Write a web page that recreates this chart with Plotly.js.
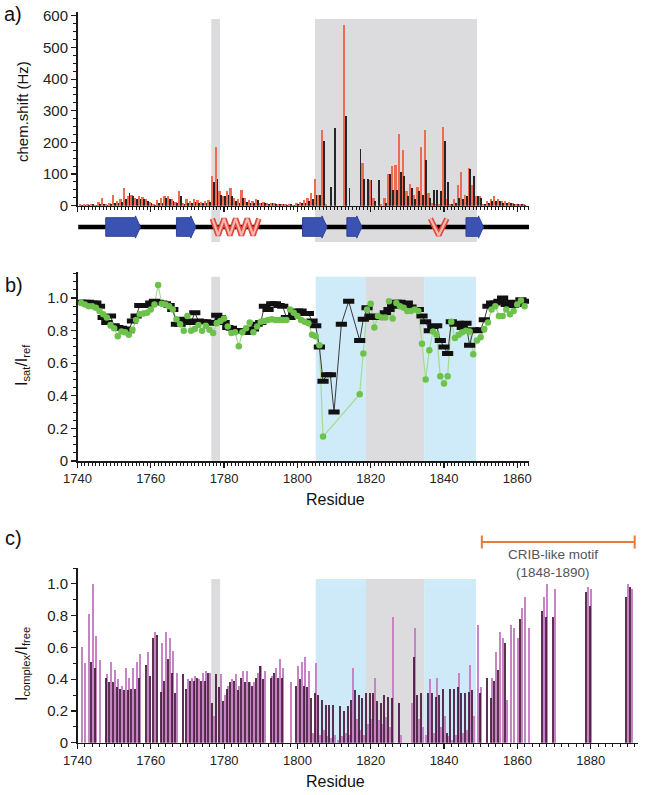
<!DOCTYPE html>
<html>
<head>
<meta charset="utf-8">
<script src="https://cdn.plot.ly/plotly-3.0.1.min.js"></script>
<style>html,body{margin:0;padding:0;background:#fff;}#chart{width:649px;height:795px;}</style>
</head>
<body>
<div id="chart"></div>
<script>
// ---------------- DATA ----------------
// Panel a: chemical shift perturbation (Hz)
const resA = [1741,1742,1743,1744,1745,1746,1747,1748,1749,1750,1751,1752,1753,1754,1755,1756,1757,1758,1759,1760,1761,1762,1763,1764,1765,1766,1767,1768,1769,1770,1771,1772,1773,1774,1775,1776,1777,1778,1779,1780,1781,1782,1783,1784,1785,1786,1787,1788,1789,1790,1791,1792,1793,1794,1795,1796,1797,1798,1799,1800,1801,1802,1803,1804,1805,1806,1807,1808,1809,1810,1811,1812,1813,1814,1815,1816,1817,1818,1819,1820,1821,1822,1823,1824,1825,1826,1827,1828,1829,1830,1831,1832,1833,1834,1835,1836,1837,1838,1839,1840,1841,1842,1843,1844,1845,1846,1847,1848,1849,1850,1851,1852,1853,1854,1855,1856,1857,1858,1859,1860,1861,1862];
const shiftRed = [4,5,4,6,3,12,25,5,8,35,15,20,55,30,35,25,30,28,20,12,5,18,25,30,30,20,12,45,8,22,15,20,18,12,15,18,95,185,45,30,45,55,25,20,50,25,18,15,22,10,12,8,10,8,5,6,5,6,3,8,12,18,25,40,85,35,240,5,0,0,0,0,570,0,0,0,0,135,0,80,25,0,5,25,100,125,130,225,175,45,70,35,60,185,240,40,10,5,5,250,20,5,20,65,105,35,120,65,30,30,5,15,20,30,20,15,15,12,8,5,6,5];
const shiftBlack = [3,3,3,4,2,5,5,3,4,10,10,12,20,40,30,20,20,22,15,8,3,8,10,25,20,15,10,30,5,8,10,12,10,8,10,12,75,85,35,30,35,30,15,10,25,12,10,10,18,8,8,5,8,6,4,4,3,4,2,5,8,10,15,20,35,35,205,0,60,245,0,0,285,55,0,0,180,85,85,80,15,80,0,10,100,50,50,105,95,30,55,20,45,35,145,25,50,50,45,205,75,5,10,25,20,30,115,95,30,25,5,10,15,15,15,10,10,8,6,4,4,3];

// Secondary structure (residue ranges)
const backbone = [1740.2, 1863.2];
const strandStart = [1747.7, 1767.0, 1801.4, 1813.5, 1846.0];
const strandEnd   = [1757.2, 1772.3, 1808.1, 1817.6, 1850.8];
const helixStart  = [1776.8, 1836.3];
const helixEnd    = [1789.5, 1840.8];
const helixTurns  = [4, 1];

// Panel b: saturation transfer Isat/Iref
const resB = resA;
const isatBlack = [0.975,0.975,0.975,0.97,0.97,0.95,0.88,0.85,0.89,0.83,0.82,0.815,0.81,0.80,0.86,0.89,0.955,0.955,0.955,0.97,0.98,0.975,0.97,0.965,0.955,0.93,0.84,0.84,0.87,0.86,0.85,0.91,0.86,0.855,0.855,0.85,0.845,0.895,0.88,0.85,0.82,0.815,0.80,0.80,0.80,0.79,0.79,0.81,0.84,0.85,0.95,0.93,0.965,0.965,0.955,0.95,0.88,0.88,0.91,0.92,0.92,0.905,0.905,0.86,0.83,0.70,0.49,0.53,0.53,0.30,null,0.84,null,0.98,null,null,0.74,0.87,0.94,0.89,0.88,0.88,0.88,0.91,0.93,0.95,0.975,0.975,0.96,0.97,0.945,0.93,0.93,0.89,0.855,0.80,0.825,0.83,0.74,0.70,0.66,0.855,0.84,0.845,0.82,0.845,0.71,0.805,0.80,0.805,0.867,0.95,0.97,0.97,0.98,1.0,0.96,0.975,0.955,0.96,0.99,0.98];
const isatGreen = [0.97,0.96,0.95,0.95,0.94,0.92,0.90,0.88,0.835,0.815,0.765,0.795,0.79,0.775,0.805,0.865,0.90,0.905,0.91,0.93,0.96,1.08,0.965,0.96,0.95,0.93,0.87,0.84,0.80,0.89,0.80,0.81,0.835,0.80,0.83,0.805,0.785,0.845,0.86,0.875,0.825,0.785,0.79,0.705,0.79,0.815,0.85,0.79,0.825,0.855,0.86,0.866,0.87,0.866,0.866,0.866,0.866,0.93,0.91,0.89,0.866,0.855,0.845,0.775,0.765,0.71,0.15,null,null,null,null,null,null,null,null,null,0.41,0.66,0.93,0.965,0.82,0.89,0.88,0.88,0.98,0.875,0.97,0.95,0.94,0.92,0.92,0.93,0.92,0.72,0.50,0.68,0.795,0.775,0.52,0.475,0.52,0.855,0.755,0.775,0.79,0.80,0.795,0.655,0.74,0.76,0.81,0.85,0.93,0.95,0.89,0.89,0.93,0.90,0.92,0.96,0.985,0.95];

// Panel c: Icomplex/Ifree
const resC = [1741,1742,1743,1744,1745,1746,1748,1749,1750,1751,1752,1753,1754,1755,1756,1757,1759,1760,1761,1762,1763,1764,1765,1766,1767,1769,1770,1771,1772,1773,1774,1775,1776,1777,1778,1779,1780,1781,1782,1783,1784,1785,1786,1787,1788,1789,1790,1791,1793,1794,1795,1796,1798,1800,1801,1802,1803,1804,1805,1806,1807,1808,1809,1810,1811,1812,1813,1814,1815,1816,1817,1818,1819,1820,1821,1822,1823,1824,1825,1826,1828,1831,1832,1833,1834,1835,1836,1837,1838,1839,1840,1841,1842,1843,1844,1845,1846,1847,1848,1849,1850,1852,1853,1854,1855,1856,1857,1858,1859,1860,1861,1862,1863,1867,1868,1870,1879,1880,1890,1891];
const ratioLight = [0.60,0.50,0.81,1.00,0.67,0.52,0.43,0.51,0.46,0.40,0.36,0.47,0.41,0.47,0.51,0.56,0.57,0,0.70,0,0.63,0.70,0.66,0.58,0.44,0,0.40,0.41,0.42,0.40,0.44,0.45,0.44,0.17,0,0.43,0.30,0.36,0.40,0.43,0.36,0.45,0.45,0.38,0.38,0.44,0.48,0.45,0.42,0.47,0.53,0.47,0.38,0.48,0.51,0.54,0.45,0.06,0.50,0.05,0.08,0.04,0.03,0.05,0.02,0.04,0.06,0.05,0.47,0.15,0.08,0.05,0.12,0.15,0.41,0.14,0.12,0.16,0.10,0.79,0.05,0.25,0.72,0.15,0.10,0.05,0.40,0.06,0.41,0.10,0.17,0.04,0.02,0.05,0.44,0.06,0.08,0.49,0.17,0.74,0.35,0,0.41,0.57,0.70,0.66,0.27,0.74,0.72,0.66,0.85,0.92,0.72,0.92,1.00,0.97,0.98,0.97,1.00,0.97];
const ratioDark  = [0,0,0,0.51,0.47,0,0.41,0.38,0.38,0.35,0.34,0.33,0.33,0.34,0.34,0.41,0.49,0.42,0.66,0.68,0.32,0.39,0.53,0.44,0.31,0.43,0.34,0.39,0.39,0.41,0.39,0.39,0.44,0.25,0.43,0.35,0.26,0.34,0.38,0.39,0.33,0.41,0.38,0.38,0.36,0.41,0.48,0.40,0.41,0.44,0.41,0.41,0,0.36,0.40,0.36,0.35,0.28,0.31,0.30,0.27,0.24,0.24,0.24,0,0.23,0.20,0.23,0.27,0.33,0.30,0.28,0.31,0.31,0.31,0.26,0.25,0.30,0.29,0.28,0.25,0,0.54,0.30,0.31,0,0.31,0.31,0.29,0.30,0.34,0.06,0.34,0.34,0.35,0.31,0.31,0.32,0.33,0,0.31,0.41,0.28,0.39,0.46,0,0.63,0,0,0,0.78,0,0,0.83,0.79,0.79,0.95,0.86,0.92,0.98];

// Highlighted regions
const greyBandA   = [[1776.5, 1778.9], [1804.8, 1849.0]];
const blueBands   = [[1805.0, 1818.7], [1834.6, 1848.7]];
const greyBandsBC = [[1776.5, 1778.9], [1818.7, 1834.6]];
const cribRange   = [1850.3, 1892.0];
const cribLabel   = ["CRIB-like motif", "(1848-1890)"];

const tickValsY  = [0, 0.2, 0.4, 0.6, 0.8, 1.0];
const tickTextY  = ["0", "0.2", "0.4", "0.6", "0.8", "1.0"];
const tickValsA  = [0, 100, 200, 300, 400, 500, 600];

// ---------------- LAYOUT HELPERS ----------------
const W = 649, H = 795;
const fx = p => p / W;
const fy = p => 1 - p / H;
const FONT = "Liberation Sans, Arial, Helvetica, sans-serif";
const INK = "#1a1a1a";

function xAxisBase(range, dom, anchor, labels, minorDt) {
  return {
    domain: dom, range: range, anchor: anchor,
    showline: true, linecolor: INK, linewidth: 1.5,
    ticks: "outside", ticklen: 5, tickwidth: 1.2, tickcolor: INK,
    tick0: 1740, dtick: 20, showticklabels: labels,
    tickfont: {family: FONT, size: 13, color: "#222"},
    minor: {ticks: "outside", dtick: minorDt, ticklen: 3, tickwidth: 1, tickcolor: INK},
    showgrid: false, zeroline: false, fixedrange: true
  };
}
function yAxisBase(range, dom, anchor, vals, texts, minorDt) {
  return {
    domain: dom, range: range, anchor: anchor,
    showline: true, linecolor: INK, linewidth: 1.5,
    ticks: "outside", ticklen: 5, tickwidth: 1.2, tickcolor: INK,
    tickmode: "array", tickvals: vals, ticktext: texts,
    tickfont: {family: FONT, size: 15, color: "#222"},
    minor: {ticks: "outside", dtick: minorDt, ticklen: 3, tickwidth: 1, tickcolor: INK},
    showgrid: false, zeroline: false, fixedrange: true
  };
}

const domAB = [fx(77.5), fx(529)];
const domC  = [fx(77.5), fx(638)];

// ---------------- TRACES ----------------
const traces = [];
// Panel a bars
traces.push({type: "bar", x: resA, y: shiftRed, xaxis: "x", yaxis: "y",
  marker: {color: "#ef6b52"}, width: 0.6, offset: -0.55, hoverinfo: "skip"});
traces.push({type: "bar", x: resA, y: shiftBlack, xaxis: "x", yaxis: "y",
  marker: {color: "#262626"}, width: 0.5, offset: -0.05, hoverinfo: "skip"});

// Secondary structure strip (x / y4)
traces.push({type: "scatter", mode: "lines", x: backbone, y: [0.5, 0.5], xaxis: "x", yaxis: "y4",
  line: {color: "#000", width: 4.5}, hoverinfo: "skip"});
for (let i = 0; i < strandStart.length; i++) {
  const s = strandStart[i], e = strandEnd[i], hl = 1.4, hb = 0.31, hh = 0.37;
  traces.push({type: "scatter", mode: "lines", fill: "toself", xaxis: "x", yaxis: "y4",
    x: [s, e - hl, e - hl, e, e - hl, e - hl, s, s],
    y: [0.5 - hb, 0.5 - hb, 0.5 - hh, 0.5, 0.5 + hh, 0.5 + hb, 0.5 + hb, 0.5 - hb],
    fillcolor: "#3a52b2", line: {color: "#2e4398", width: 1}, hoverinfo: "skip"});
}
for (let i = 0; i < helixStart.length; i++) {
  const s = helixStart[i], e = helixEnd[i], n = helixTurns[i];
  const xs = [], ys = [];
  for (let k = 0; k <= 2 * n; k++) { xs.push(s + (e - s) * k / (2 * n)); ys.push(k % 2 === 0 ? 0.78 : 0.22); }
  traces.push({type: "scatter", mode: "lines", x: xs, y: ys, xaxis: "x", yaxis: "y4",
    line: {color: "#e2463c", width: 5.5}, hoverinfo: "skip"});
  traces.push({type: "scatter", mode: "lines", x: xs, y: ys, xaxis: "x", yaxis: "y4",
    line: {color: "#f6b8ae", width: 2.2}, hoverinfo: "skip"});
}

// Panel b
traces.push({type: "scatter", mode: "lines", x: resB, y: isatGreen, xaxis: "x2", yaxis: "y2",
  connectgaps: true, line: {color: "#a6da92", width: 1.2}, hoverinfo: "skip"});
traces.push({type: "scatter", mode: "lines+markers", x: resB, y: isatBlack, xaxis: "x2", yaxis: "y2",
  connectgaps: true, line: {color: "#3a3a3a", width: 1},
  marker: {symbol: "line-ew", size: 8, color: "#111", line: {color: "#111", width: 5}}, hoverinfo: "skip"});
traces.push({type: "scatter", mode: "markers", x: resB, y: isatGreen, xaxis: "x2", yaxis: "y2",
  marker: {symbol: "circle", size: 6.5, color: "#6cc24a"}, hoverinfo: "skip"});

// Panel c
traces.push({type: "bar", x: resC, y: ratioLight, xaxis: "x3", yaxis: "y3",
  marker: {color: "#c684c4"}, width: 0.55, offset: -0.12, hoverinfo: "skip"});
traces.push({type: "bar", x: resC, y: ratioDark, xaxis: "x3", yaxis: "y3",
  marker: {color: "#45163a"}, opacity: 0.88, width: 0.55, offset: -0.55, hoverinfo: "skip"});

// ---------------- SHAPES ----------------
const shapes = [];
greyBandA.forEach(b => shapes.push({type: "rect", layer: "below", xref: "x", yref: "paper",
  x0: b[0], x1: b[1], y0: fy(242), y1: fy(19), fillcolor: "#dcdcde", line: {width: 0}}));
[["x2", fy(461), fy(276.7)], ["x3", fy(742.7), fy(579)]].forEach(p => {
  blueBands.forEach(b => shapes.push({type: "rect", layer: "below", xref: p[0], yref: "paper",
    x0: b[0], x1: b[1], y0: p[1], y1: p[2], fillcolor: "#cfeaf8", line: {width: 0}}));
  greyBandsBC.forEach(b => shapes.push({type: "rect", layer: "below", xref: p[0], yref: "paper",
    x0: b[0], x1: b[1], y0: p[1], y1: p[2], fillcolor: "#dcdcde", line: {width: 0}}));
});
// CRIB bracket
const crc = "#ea7a3c";
shapes.push({type: "line", xref: "x3", yref: "paper", x0: cribRange[0], x1: cribRange[1],
  y0: fy(542), y1: fy(542), line: {color: crc, width: 2}});
cribRange.forEach(v => shapes.push({type: "line", xref: "x3", yref: "paper", x0: v, x1: v,
  y0: fy(535.5), y1: fy(548.5), line: {color: crc, width: 2}}));

// ---------------- ANNOTATIONS ----------------
const ann = (text, x, y, opts) => Object.assign({text: text, xref: "paper", yref: "paper",
  x: fx(x), y: fy(y), showarrow: false, xanchor: "center", yanchor: "middle",
  font: {family: FONT, size: 15, color: "#111"}}, opts || {});
const annotations = [
  ann("a)", 2, 14, {xanchor: "left", font: {family: FONT, size: 20, color: "#111"}}),
  ann("b)", 3, 285, {xanchor: "left", font: {family: FONT, size: 20, color: "#111"}}),
  ann("c)", 3, 538, {xanchor: "left", font: {family: FONT, size: 20, color: "#111"}}),
  ann("chem.shift (Hz)", 23, 112, {textangle: -90}),
  ann("I<sub>sat</sub>/I<sub>ref</sub>", 22, 365, {textangle: -90, font: {family: FONT, size: 16, color: "#111"}}),
  ann("I<sub>complex</sub>/I<sub>free</sub>", 22, 664, {textangle: -90, font: {family: FONT, size: 16, color: "#111"}}),
  ann("Residue", 335, 499, {font: {family: FONT, size: 16, color: "#111"}}),
  ann("Residue", 335, 781, {font: {family: FONT, size: 16, color: "#111"}}),
  ann(cribLabel[0], 553, 554, {font: {family: FONT, size: 13.5, color: "#555"}}),
  ann(cribLabel[1], 553, 572, {font: {family: FONT, size: 13.5, color: "#555"}})
];

const layout = {
  width: W, height: H, margin: {l: 0, r: 0, t: 0, b: 0},
  paper_bgcolor: "#fff", plot_bgcolor: "rgba(0,0,0,0)",
  showlegend: false, barmode: "overlay", bargap: 0,
  font: {family: FONT, color: "#222"},
  xaxis:  xAxisBase([1740, 1863.2], domAB, "y", false, 1),
  yaxis:  yAxisBase([0, 612], [fy(205.7), fy(12)], "x", tickValsA, tickValsA.map(String), 25),
  xaxis2: xAxisBase([1740, 1863.2], domAB, "y2", true, 1),
  yaxis2: yAxisBase([0, 1.16], [fy(461), fy(272)], "x2", tickValsY, tickTextY, 0.05),
  xaxis3: xAxisBase([1740, 1892.9], domC, "y3", true, 2),
  yaxis3: yAxisBase([0, 1.1], [fy(742.7), fy(568)], "x3", tickValsY, tickTextY, 0.1),
  yaxis4: {domain: [fy(242), fy(212)], range: [0, 1], anchor: "x", visible: false, fixedrange: true},
  shapes: shapes, annotations: annotations
};

Plotly.newPlot("chart", traces, layout, {displayModeBar: false, staticPlot: true});
</script>
</body>
</html>
